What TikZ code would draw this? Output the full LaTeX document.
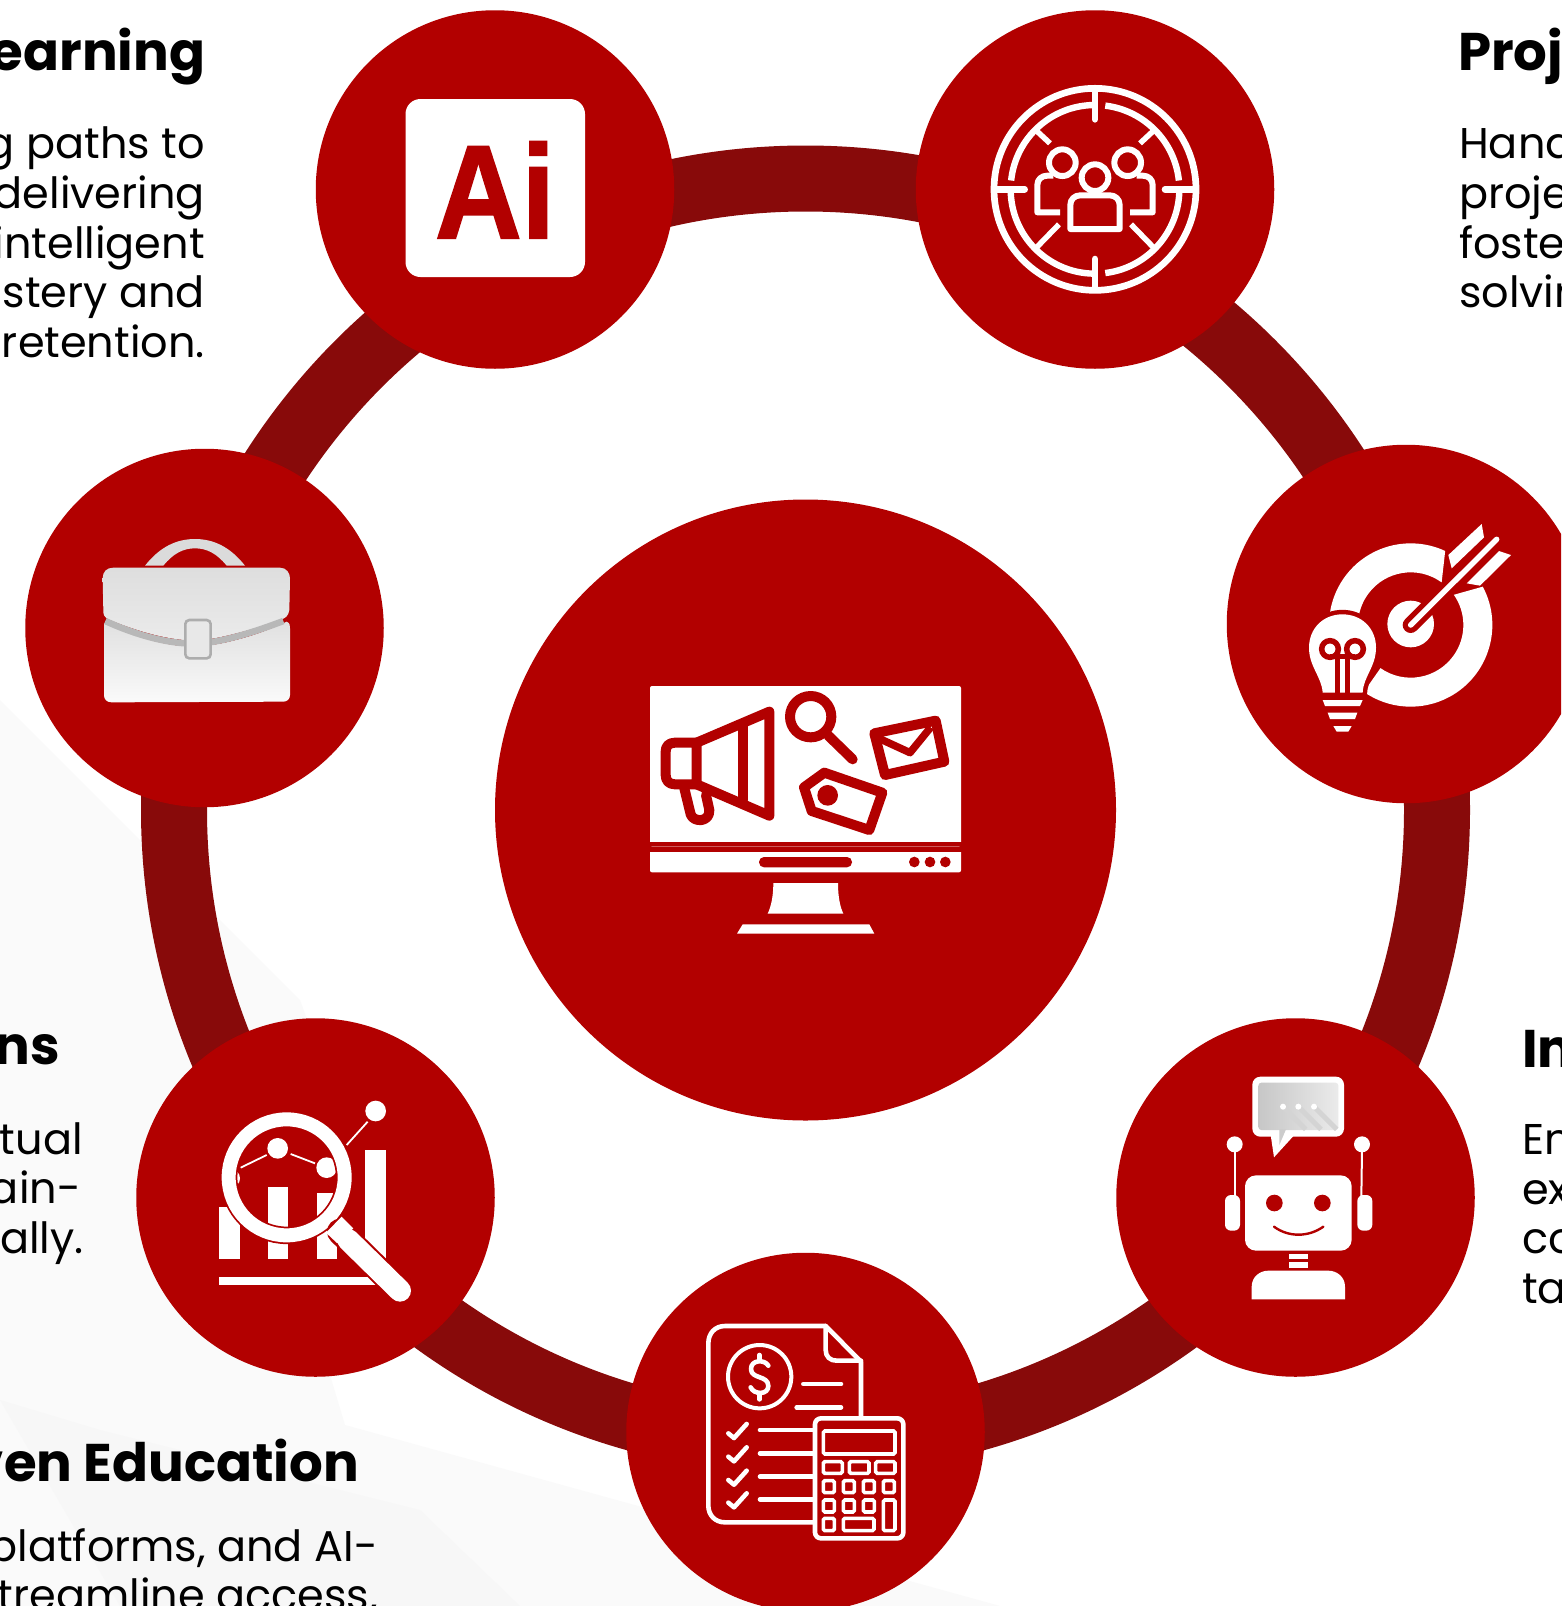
\documentclass[tikz,border=0pt]{standalone}
\usepackage{fontspec}
\setmainfont{Poppins}
\newfontfamily\aifont{Liberation Sans}[BoldFont={Liberation Sans Bold},BoldFeatures={FakeBold=1.5}]
\definecolor{hubred}{HTML}{B20000}
\definecolor{ringred}{HTML}{880A0A}
\newcommand{\headfont}{\fontsize{53}{60}\selectfont\bfseries}
\newcommand{\bodyfont}{\fontsize{43}{50}\selectfont}
\tikzset{
  hub/.style={circle,fill=hubred,inner sep=0pt,minimum size=#1},
  headR/.style={anchor=base east,inner sep=0pt,font=\headfont},
  headL/.style={anchor=base west,inner sep=0pt,font=\headfont},
  bodyR/.style={anchor=base east,inner sep=0pt,font=\bodyfont},
  bodyL/.style={anchor=base west,inner sep=0pt,font=\bodyfont},
  rl/.style={draw=hubred,line width=10pt,line join=round,line cap=round},
  wl/.style={draw=white,line cap=round,line join=round,line width=#1},
}
\begin{document}
\begin{tikzpicture}[x=1pt,y=1pt,yscale=-1]
\useasboundingbox (0,0) rectangle (1561,1606);
\clip (0,0) rectangle (1561,1606);
\fill[white] (0,0) rectangle (1561,1606);
% faint background
\fill[black!2] (0,700) -- (300,1000) -- (420,1330) -- (330,1375) -- (345,1425) -- (1000,1606) -- (0,1606) -- cycle;
\fill[black!3] (0,1400) -- (100,1430) -- (420,1510) -- (520,1606) -- (120,1606) -- cycle;

% ring and hubs
\draw[ringred,line width=66pt] (805.5,810) circle (631.5);
\node[hub=621pt] (centre) at (805.5,810) {};
\node[hub=358.5pt] (ai) at (495,189.5) {};
\node[hub=358.5pt] (team) at (1095,189.5) {};
\node[hub=358.5pt] (target) at (1406,624) {};
\node[hub=358.5pt] (robot) at (1295.5,1197.5) {};
\node[hub=358.5pt] (calc) at (805.5,1432) {};
\node[hub=358.5pt] (chart) at (315.5,1197.5) {};
\node[hub=358.5pt] (case) at (204.5,628) {};

% text
\node[headR] (h1) at (205.5,70) {earning};
\node[bodyR] (b11) at (205,158) {g paths to};
\node[bodyR] (b12) at (205,208) {delivering};
\node[bodyR] (b13) at (205,258) {intelligent};
\node[bodyR] (b14) at (205,307) {stery and};
\node[bodyR] (b15) at (205,357) {retention.};
\node[headL] (h2) at (1458,70) {Proj};
\node[bodyL] (b21) at (1459,158) {Hand};
\node[bodyL] (b22) at (1459,208) {proje};
\node[bodyL] (b23) at (1459,258) {foste};
\node[bodyL] (b24) at (1459,307) {solvin};
\node[headL] (h3) at (1522,1067) {In};
\node[bodyL] (b31) at (1522,1154) {En};
\node[bodyL] (b32) at (1522,1204) {ex};
\node[bodyL] (b33) at (1522,1253) {co};
\node[bodyL] (b34) at (1522,1303) {ta};
\node[headR] (h4) at (60,1064) {ns};
\node[bodyR] (b41) at (83,1154) {tual};
\node[bodyR] (b42) at (81,1203) {ain-};
\node[bodyR] (b43) at (84,1253) {ally.};
\node[headR] (h5) at (359,1481) {ven Education};
\node[bodyR] (b51) at (378,1561) {platforms, and AI-};
\node[bodyR] (b52) at (378,1610) {treamline access,};

% centre icon: monitor
\begin{scope}[shift={(600,650)},scale=1/3]
  \fill[white,rounded corners=2pt] (150,108) rectangle (1083,600) ;
  \fill[hubred] (145,575) rectangle (1088,610);
  \fill[white,rounded corners=2pt] (150,590) rectangle (1083,667);
  \fill[hubred] (145,590) rectangle (1088,605);
  \fill[hubred,rounded corners=5pt] (477,621) rectangle (756,652);
  \foreach \q in {943,990,1036} \fill[hubred] (\q,636) circle (16);
  \fill[white] (520,699) -- (714,699) .. controls (714,740) and (720,770) .. (730,791) -- (503,791) .. controls (513,770) and (520,740) .. (520,699) -- cycle;
  \fill[white] (428,823) -- (808,823) -- (823,851) -- (411,851) -- cycle;
  % megaphone
  \draw[rl] (290,278) -- (225,278) .. controls (205,278) and (197,290) .. (197,305) -- (197,375) .. controls (197,392) and (207,403) .. (225,403) -- (290,403) -- cycle;
  \draw[rl] (290,278) -- (508,185) -- (508,497) -- (290,403);
  \draw[rl] (430,230) -- (430,450);
  \draw[rl] (253,415) -- (272,493) .. controls (280,518) and (330,518) .. (328,480) -- (318,435);
  % magnifier
  \draw[rl] (632,200) circle (62);
  \draw[rl] (685,257) -- (758,328);
  % envelope
  \draw[rl] (823,250) -- (1007,212) -- (1033,335) -- (855,375) -- cycle;
  \draw[draw=hubred,line width=7.5pt,line join=round] (830,262) -- (930,308) -- (992,232);
  % tag
  \draw[rl] (612,412) -- (673,368) -- (847,428) -- (808,540) -- (635,483) -- cycle;
  \fill[hubred] (683,436) circle (31);
\end{scope}

% Ai icon
\fill[white,rounded corners=15pt] (405.5,99) rectangle (585,277);
\node[anchor=base,inner sep=0pt,text=hubred,font={\aifont\bfseries\fontsize{133}{133}\selectfont}] (ailabel) at (495,238) {\scalebox{0.9}[1]{Ai}};

% team icon
\begin{scope}[shift={(950,60)},scale=1/3]
  \draw[white,line width=6.7pt] (435,388) circle (303);
  \begin{scope}[white,line width=6.4pt]
    \draw (435,388) ++(-83:253) arc (-83:-6:253);
    \draw (435,388) ++(-174:253) arc (-174:-91:253);
    \draw (435,388) ++(91:253) arc (91:180:253);
    \draw (435,388) ++(0:253) arc (0:83:253);
  \end{scope}
  \draw[wl=6.6pt] (435,95) -- (435,178);
  \draw[wl=6.6pt] (435,597) -- (435,680);
  \draw[wl=6.6pt] (140,388) -- (224,388);
  \draw[wl=6.6pt] (645,388) -- (730,388);
  \draw[white,line width=5.5pt] (258,211) -- (300,250);
  \draw[white,line width=5.5pt] (612,211) -- (570,250);
  \draw[white,line width=5.5pt] (258,564) -- (327,493);
  \draw[white,line width=5.5pt] (612,564) -- (543,493);
  \draw[white,line width=6pt] (337,308) circle (40);
  \draw[white,line width=6pt] (533,308) circle (40);
  \draw[white,line width=6pt,line join=round] (330,457) -- (262,457) -- (262,375) .. controls (262,358) and (275,347) .. (292,347) -- (310,347);
  \draw[white,line width=6pt,line join=round] (540,457) -- (608,457) -- (608,375) .. controls (608,358) and (595,347) .. (578,347) -- (560,347);
  \draw[white,line width=6pt,line join=round] (361,507) -- (361,435) .. controls (361,418) and (374,406) .. (391,406) -- (479,406) .. controls (496,406) and (509,418) .. (509,435) -- (509,507) -- cycle;
  \draw[draw=white,fill=hubred,line width=6pt] (435,353) circle (40);
\end{scope}

% target icon
\begin{scope}[shift={(1280,500)},scale=1/3]
  \fill[white] (392,375) ++(-172:245) arc (-172:-65:245) -- (484.9,247.2) arc (-54:-172:158) -- cycle;
  \fill[white] (392,375) ++(-28:245) arc (-28:125:245) -- (301.4,504.4) arc (125:-35:158) -- cycle;
  \fill[white] (392,372) circle (70);
  \draw[hubred,line width=16pt,line cap=round] (392,375) -- (530,237);
  \draw[wl=5.5pt] (392,375) -- (650,118);
  \fill[white] (605,72) -- (612,112) -- (515,205) -- (505,165) -- cycle;
  \fill[white] (657,153) -- (693,165) -- (600,257) -- (560,250) -- cycle;
  % bulb
  \path[draw=hubred,line width=9pt,fill=white,line join=round] (128,578) .. controls (125,530) and (87,500) .. (87,443) .. controls (87,385) and (130,343) .. (187,343) .. controls (245,343) and (288,385) .. (288,443) .. controls (288,500) and (250,530) .. (248,578) -- cycle;
  \fill[white] (128,578) .. controls (125,530) and (87,500) .. (87,443) .. controls (87,385) and (130,343) .. (187,343) .. controls (245,343) and (288,385) .. (288,443) .. controls (288,500) and (250,530) .. (248,578) -- cycle;
  \draw[hubred,line width=5.5pt] (150,447) circle (25);
  \draw[hubred,line width=5.5pt] (225,447) circle (25);
  \draw[hubred,line width=5pt] (172,470) -- (172,580);
  \draw[hubred,line width=5pt] (203,470) -- (203,580);
  \draw[hubred,line width=5pt] (150,470) -- (225,470);
  \fill[white] (128,600) -- (248,600) -- (240,618) -- (135,618) -- cycle;
  \fill[white] (143,638) -- (232,638) -- (225,657) -- (150,657) -- cycle;
  \fill[white] (160,678) -- (215,678) -- (205,695) -- (170,695) -- cycle;
\end{scope}

% robot icon
\begin{scope}[shift={(1200,1050)},scale=1/3]
  \fill[white,rounded corners=8pt] (157,80) rectangle (432,260);
  \fill[white] (212,255) -- (222,322) -- (283,255) -- cycle;
  \shade[left color=black!22,right color=black!8,rounded corners=3pt] (175,98) rectangle (415,240);
  \fill[black!20] (238,238) -- (258,238) -- (238,285) -- cycle;
  \foreach \q in {249,295,342} {
    \draw[black!17,line width=5pt] (\q,170) -- ++(68,68);
    \fill[white] (\q,170) circle (9);
  }
  \fill[white] (104,283) circle (24);
  \fill[white] (486,283) circle (24);
  \draw[white,line width=2pt] (104,300) -- (104,440);
  \draw[white,line width=2pt] (486,300) -- (484,440);
  \fill[white,rounded corners=6pt] (75,435) rectangle (120,542);
  \fill[white,rounded corners=6pt] (472,435) rectangle (517,542);
  \fill[white,rounded corners=11pt] (135,376) rectangle (455,602);
  \fill[hubred] (223,459) circle (25);
  \fill[hubred] (367,459) circle (25);
  \draw[hubred,line width=2.4pt,line cap=round] (222,530) .. controls (265,562) and (325,562) .. (370,530);
  \fill[white] (266,612) rectangle (325,628);
  \fill[white] (266,636) rectangle (325,654);
  \fill[white] (155,748) -- (155,710) .. controls (155,680) and (180,662) .. (205,662) -- (385,662) .. controls (410,662) and (435,680) .. (435,710) -- (435,748) -- cycle;
\end{scope}

% calculator icon
\begin{scope}[shift={(680,1300)},scale=1/3]
  \begin{scope}[white,line width=4.6pt,line cap=round,line join=round]
    \draw (400,667) -- (135,667) .. controls (105,667) and (85,645) .. (85,617) -- (85,130) .. controls (85,100) and (105,78) .. (135,78) -- (437,78) -- (543,185) -- (543,350);
    \draw (437,78) -- (437,150) .. controls (437,170) and (450,182) .. (470,182) -- (543,182);
    \draw[line width=4pt] (239,230) circle (95);
    \draw (265,197) .. controls (255,178) and (213,178) .. (213,207) .. controls (213,238) and (265,225) .. (265,258) .. controls (265,285) and (222,285) .. (212,262);
    \draw (238,165) -- (238,180);
    \draw (238,282) -- (238,298);
    \draw (370,252) -- (483,252);
    \draw (350,322) -- (483,322);
    \foreach \q in {0,70,140,208} {
      \draw (145,400+\q) -- (162,414+\q) -- (200,372+\q);
      \draw (240,390+\q) -- (400,390+\q);
    }
    \path[fill=hubred,draw=white,rounded corners=6pt] (405,355) rectangle (670,715);
  \end{scope}
  \begin{scope}[white,line width=3.6pt,rounded corners=1.5pt]
    \draw (430,393) rectangle (645,462);
    \draw (430,485) rectangle (487,520);
    \draw (508,485) rectangle (567,520);
    \draw (587,485) rectangle (645,520);
    \foreach \q in {430,490,550,610} \draw (\q,542) rectangle ++(33,36);
    \foreach \q in {430,490,550} \draw (\q,600) rectangle ++(33,36);
    \draw (610,600) rectangle (645,692);
    \draw (430,655) rectangle (463,692);
    \draw (490,655) rectangle (582,692);
  \end{scope}
\end{scope}

% chart icon
\begin{scope}[shift={(200,1080)},scale=1/3]
  \fill[white] (57,380) rectangle (120,537);
  \fill[white] (203,322) rectangle (265,537);
  \fill[white] (350,340) rectangle (412,537);
  \fill[white] (496,210) rectangle (558,537);
  \fill[white] (57,590) rectangle (530,615);
  \fill[white] (92,295) circle (28);
  \fill[white] (233,205) circle (31);
  \fill[white] (380,263) circle (31);
  \fill[white] (527,93) circle (31);
  \draw[white,line width=1.8pt] (122,263) -- (200,225);
  \draw[white,line width=1.8pt] (272,222) -- (345,250);
  \draw[white,line width=1.8pt] (440,195) -- (503,125);
  \draw[hubred,line width=17.5pt] (260,292) circle (174);
  \draw[white,line width=14pt] (260,292) circle (174);
  \draw[hubred,line width=26pt,line cap=round] (420,455) -- (600,632);
  \fill[white] (425,410) -- (460,445) -- (412,490) -- (378,458) -- cycle;
  \draw[hubred,line width=22pt] (440,475) -- (600,632);
  \draw[white,line width=22pt,line cap=round] (445,480) -- (600,632);
\end{scope}

% briefcase icon
\begin{scope}[shift={(80,520)},scale=1/3]
  \fill[black!14] (195,137) .. controls (240,80) and (290,57) .. (345,57) .. controls (400,57) and (450,80) .. (495,137) -- (440,137) .. controls (410,100) and (380,85) .. (345,85) .. controls (310,85) and (280,100) .. (250,137) -- cycle;
  \shade[top color=black!12,bottom color=black!2] (72,310) .. controls (150,345) and (250,380) .. (345,380) .. controls (420,378) and (540,345) .. (620,305) .. controls (630,310) and (630,315) .. (630,325) -- (630,525) .. controls (630,538) and (620,545) .. (610,545) -- (95,547) .. controls (80,547) and (72,538) .. (72,525) -- cycle;
  \shade[top color=black!13,bottom color=black!8] (100,143) -- (600,143) .. controls (620,143) and (630,160) .. (630,175) -- (628,270) .. controls (625,290) and (615,295) .. (600,300) .. controls (500,335) and (400,360) .. (345,362) .. controls (250,360) and (150,325) .. (85,298) .. controls (72,290) and (70,285) .. (70,270) -- (68,175) .. controls (68,155) and (80,143) .. (100,143) -- cycle;
  \draw[black!28,line width=6.5pt] (76,303) .. controls (150,337) and (250,371) .. (345,371) .. controls (420,369) and (520,337) .. (610,303);
  \draw[fill=black!9,draw=black!32,line width=2.6pt,rounded corners=4pt] (316,300) rectangle (392,415);
\end{scope}
\end{tikzpicture}
\end{document}
